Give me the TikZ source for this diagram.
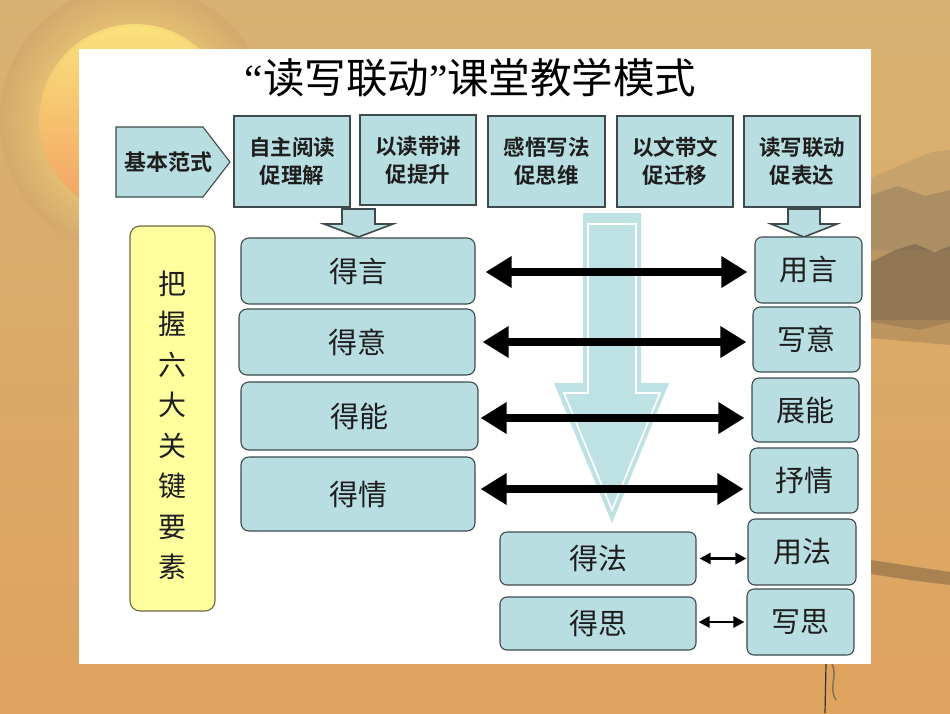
\documentclass[tikz,border=0pt]{standalone}
\usepackage{fontspec}
\newfontfamily\cjk{Noto Sans CJK SC}[BoldFont={Noto Sans CJK SC Bold}]
\newfontfamily\qfont{Liberation Serif}
\usetikzlibrary{arrows.meta}
\definecolor{boxblue}{HTML}{B8DEE2}
\definecolor{edge}{HTML}{3E4A4C}
\definecolor{ybox}{HTML}{FFFF9E}
\definecolor{yedge}{HTML}{6A6A45}
\definecolor{txt}{HTML}{1E1E1E}
\definecolor{bgtop}{HTML}{D8B172}
\definecolor{bgmid}{HTML}{CC9658}
\definecolor{bgbot}{HTML}{DEA35E}
\definecolor{sunY}{HTML}{FAE27C}
\definecolor{sunO}{HTML}{F2A062}
\definecolor{sunbg}{HTML}{D5A86C}
\definecolor{hill}{HTML}{8A7C6C}
\pgfdeclareradialshading{glow}{\pgfpoint{0bp}{0bp}}{color(0bp)=(sunY!70!sunbg); color(16bp)=(sunY!45!sunbg); color(25bp)=(sunbg); color(50bp)=(sunbg)}
\begin{document}
\begin{tikzpicture}[x=1pt,y=-1pt,font=\cjk,
  bluebox/.style={draw=edge,line width=1.1pt,fill=boxblue,rounded corners=8pt,inner sep=0pt,text=txt,font=\cjk\fontsize{29}{30}\selectfont},
  topbox/.style={draw=edge,line width=1.1pt,fill=boxblue,inner sep=0pt,align=center,text=txt,font=\cjk\bfseries\fontsize{21.5}{28}\selectfont},
  toptxt/.style={inner sep=0pt,text=txt,font=\cjk\bfseries\fontsize{22}{28}\selectfont},
  dbl/.style={line width=8pt,{Triangle[length=26pt,width=30pt]}-{Triangle[length=26pt,width=30pt]}},
  sml/.style={line width=2.6pt,{Triangle[length=11pt,width=11pt]}-{Triangle[length=11pt,width=11pt]}},
  hollow/.style={draw=edge,line width=1.6pt,fill=boxblue,line join=miter},
]
\useasboundingbox (0,0) rectangle (950,713);
% background
\shade[top color=bgtop,middle color=bgmid,bottom color=bgbot] (0,0) rectangle (950,713);
\fill[bgtop,opacity=0.6] (0,0) rectangle (950,45);
% sun
\shade[shading=glow] (135,120) circle (135);
\shade[top color=sunY,bottom color=sunO] (135,120) circle (96);
\foreach \r/\o in {95/0.15,98/0.25,101/0.2,104/0.12}
  \draw[sunY!40!sunbg,opacity=\o,line width=3.5pt] (135,120) circle (\r);
% misty hills on the right
\fill[hill,opacity=0.22] (871,178) -- (890,170) -- (912,160) -- (932,152) -- (950,150) -- (950,250) -- (871,250) -- cycle;
\fill[hill!80!black,opacity=0.3] (871,195) -- (898,186) -- (925,196) -- (950,190) -- (950,320) -- (871,320) -- cycle;
\fill[hill!50!black,opacity=0.35] (871,262) -- (895,250) -- (915,244) -- (935,252) -- (950,246) -- (950,322) -- (920,330) -- (871,322) -- cycle;
\fill[hill!50!black,opacity=0.2] (871,322) -- (920,330) -- (950,322) -- (950,345) -- (871,338) -- cycle;
\fill[hill!40!black,opacity=0.3] (871,560) -- (910,566) -- (950,572) -- (950,585) -- (910,580) -- (871,574) -- cycle;
\draw[black!80,line width=1.2pt] (826,664) -- (825,713);
\draw[black!70,line width=1.5pt,opacity=0.6] (832,664) .. controls (838,676) and (828,688) .. (836,700);
% panel
\fill[white] (79,49) rectangle (871,664);
% title
\node[inner sep=0pt,text=black,font=\cjk\fontsize{41.5}{44}\selectfont] (title) at (470.5,78) {{\qfont “}读写联动{\qfont ”}课堂教学模式};
% top row
\draw[draw=edge,line width=1.1pt,fill=boxblue] (116,127) -- (203,127) -- (230,162) -- (203,197) -- (116,197) -- cycle;
\node[toptxt] (fs) at (168,162) {基本范式};
\node[topbox,minimum width=116pt,minimum height=91pt] (t1) at (292,161.5) {自主阅读\\促理解};
\node[topbox,minimum width=116pt,minimum height=90pt] (t2) at (418,160) {以读带讲\\促提升};
\node[topbox,minimum width=117pt,minimum height=91pt] (t3) at (546.5,161.5) {感悟写法\\促思维};
\node[topbox,minimum width=116pt,minimum height=91pt] (t4) at (675,161.5) {以文带文\\促迁移};
\node[topbox,minimum width=116pt,minimum height=91pt] (t5) at (802,161.5) {读写联动\\促表达};
% big light arrow
\fill[boxblue!92!white] (583,213) -- (641,213) -- (641,383) -- (669,383) -- (612,523) -- (554,383) -- (583,383) -- cycle;
\draw[white,line width=1.6pt,line join=miter] (588,224) -- (636,224) -- (636,393) -- (660,393) -- (612,510) -- (564,393) -- (588,393) -- cycle;
% hollow arrows
\draw[hollow] (342,209) -- (375,209) -- (375,224) -- (393,224) -- (358.5,237) -- (324,224) -- (342,224) -- cycle;
\draw[hollow] (788,209) -- (820,209) -- (820,224) -- (837,224) -- (804,237) -- (771,224) -- (788,224) -- cycle;
% yellow box
\node[draw=yedge,line width=1.1pt,fill=ybox,rounded corners=10pt,minimum width=85pt,minimum height=385pt] (ybx) at (172.5,418.5) {};
\node[inner sep=0pt,align=center,text=txt,font=\cjk\fontsize{28}{40.5}\selectfont] (ytxt) at (172.5,425.5) {把\\握\\六\\大\\关\\键\\要\\素};
% left boxes
\node[bluebox,minimum width=234pt,minimum height=66pt] (yan) at (358,271) {得言};
\node[bluebox,minimum width=236pt,minimum height=66pt] (yi) at (357,342) {得意};
\node[bluebox,minimum width=237pt,minimum height=68pt] (neng) at (359.5,416) {得能};
\node[bluebox,minimum width=234pt,minimum height=74pt] (qing) at (358,494) {得情};
% right boxes
\node[bluebox,rounded corners=7pt,minimum width=107pt,minimum height=66pt] (yong) at (808.5,270) {用言};
\node[bluebox,rounded corners=7pt,minimum width=107pt,minimum height=65pt] (xieyi) at (806.5,339.5) {写意};
\node[bluebox,rounded corners=7pt,minimum width=107pt,minimum height=64pt] (zhan) at (805.5,410) {展能};
\node[bluebox,rounded corners=7pt,minimum width=108pt,minimum height=65pt] (shu) at (804,480.5) {抒情};
\node[bluebox,rounded corners=7pt,minimum width=108pt,minimum height=66pt] (yongfa) at (802,552) {用法};
\node[bluebox,rounded corners=7pt,minimum width=107pt,minimum height=66pt] (xiesi) at (800.5,622) {写思};
% bottom boxes
\node[bluebox,rounded corners=7pt,minimum width=196pt,minimum height=53pt] (defa) at (598,558.5) {得法};
\node[bluebox,rounded corners=7pt,minimum width=196pt,minimum height=53pt] (desi) at (598,623.5) {得思};
% double arrows
\draw[dbl] ([xshift=10pt,yshift=-1pt]yan.east) -- ([xshift=-7pt,yshift=-1pt]yan.east -| yong.west);
\draw[dbl] ([xshift=7pt]yi.east) -- ([xshift=-6pt]yi.east -| xieyi.west);
\draw[dbl] ([xshift=2pt,yshift=-2pt]neng.east) -- ([xshift=-7pt,yshift=-2pt]neng.east -| zhan.west);
\draw[dbl] ([xshift=5pt,yshift=5pt]qing.east) -- ([xshift=-6pt,yshift=5pt]qing.east -| shu.west);
\draw[sml] ([xshift=3pt]defa.east) -- ([xshift=-1pt]defa.east -| yongfa.west);
\draw[sml] ([xshift=2pt,yshift=1.5pt]desi.east) -- ([xshift=-2pt,yshift=1.5pt]desi.east -| xiesi.west);
\end{tikzpicture}
\end{document}
